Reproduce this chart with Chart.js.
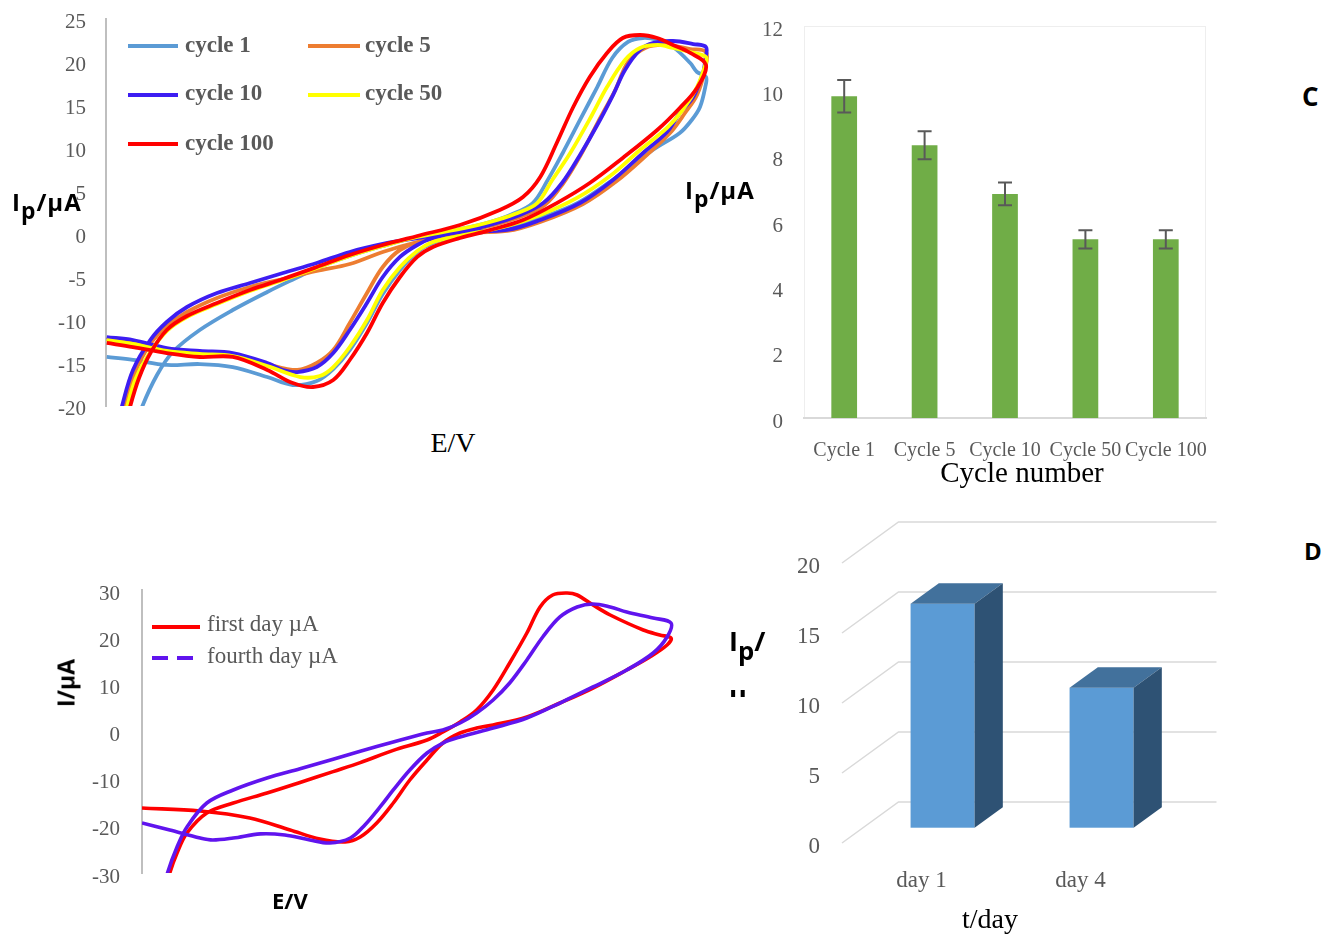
<!DOCTYPE html>
<html>
<head>
<meta charset="utf-8">
<script src="https://cdn.jsdelivr.net/npm/chart.js@4.4.0/dist/chart.umd.min.js"></script>
<style>
  html, body { margin: 0; padding: 0; background: #fff; }
  #fig { position: relative; width: 1323px; height: 934px; overflow: hidden; background: #fff; }
  canvas { position: absolute; }
  .t { position: absolute; white-space: nowrap; line-height: 1; z-index: 2; }
  .serif { font-family: 'Liberation Serif', 'Times New Roman', serif; color: #000; }
  .sans { font-family: 'Open Sans', sans-serif; font-weight: 700; color: #000; }
  .wide { letter-spacing: 1px; }
  .lg { font-family: 'Liberation Serif', 'Times New Roman', serif; color: #595959; font-size: 23px; }
  .lgb { font-weight: 700; }
  .sw { position: absolute; height: 4px; z-index: 2; }
  .sub { font-size: 95%; position: relative; top: 0.35em; }
</style>
</head>
<body>
<div id="fig">
  <canvas id="cvA" width="730" height="420" style="left:0;top:0"></canvas>
  <canvas id="barB" width="530" height="480" style="left:700px;top:0"></canvas>
  <canvas id="cvC" width="700" height="340" style="left:0;top:560px"></canvas>
  <canvas id="barD" width="520" height="420" style="left:740px;top:500px"></canvas>

  <!-- cycling voltammograms: legend and axis titles -->
  <div class="sw" style="left:128px;top:44px;width:50px;background:#5B9BD5"></div>
  <div class="t lg lgb" style="left:185px;top:33px">cycle 1</div>
  <div class="sw" style="left:308px;top:44px;width:52px;background:#ED7D31"></div>
  <div class="t lg lgb" style="left:365px;top:33px">cycle 5</div>
  <div class="sw" style="left:128px;top:93px;width:50px;background:#3D1DF2"></div>
  <div class="t lg lgb" style="left:185px;top:81px">cycle 10</div>
  <div class="sw" style="left:308px;top:93px;width:52px;background:#FFFF00"></div>
  <div class="t lg lgb" style="left:365px;top:81px">cycle 50</div>
  <div class="sw" style="left:128px;top:142px;width:50px;background:#FF0000"></div>
  <div class="t lg lgb" style="left:185px;top:131px">cycle 100</div>
  <div class="t sans wide" style="left:12px;top:190px;font-size:24px">I<span class="sub">p</span>/µA</div>
  <div class="t serif" style="left:453px;top:429px;font-size:28px;transform:translateX(-50%)">E/V</div>

  <!-- peak current per cycle -->
  <div class="t sans wide" style="left:685px;top:178px;font-size:24px">I<span class="sub">p</span>/µA</div>
  <div class="t serif" style="left:1022px;top:458px;font-size:29px;transform:translateX(-50%)">Cycle number</div>
  <div class="t sans" style="left:1302px;top:83px;font-size:26px">C</div>

  <!-- day-to-day voltammograms -->
  <div class="sw" style="left:152px;top:625px;width:48px;background:#FF0000"></div>
  <div class="t lg" style="left:207px;top:612px">first day µA</div>
  <div class="sw" style="left:152px;top:656px;width:41px;background:repeating-linear-gradient(90deg,#6014EE 0 16px,transparent 16px 25px)"></div>
  <div class="t lg" style="left:207px;top:644px">fourth day µA</div>
  <div class="t sans" style="left:66px;top:683px;font-size:23px;transform:translate(-50%,-50%) rotate(-90deg)">I/µA</div>
  <div class="t sans" style="left:272px;top:889px;font-size:22px">E/V</div>

  <!-- peak current per day (label box too narrow: unit is cut off) -->
  <div class="t sans" style="left:729px;top:627px;font-size:27px">I<span class="sub">p</span>/</div>
  <div class="t" style="left:729px;top:690px;width:20px;height:7px;overflow:hidden">
    <div class="sans" style="position:relative;top:-9.5px;font-size:27px;line-height:1">µA</div>
  </div>
  <div class="t serif" style="left:990px;top:905px;font-size:28px;transform:translateX(-50%)">t/day</div>
  <div class="t sans" style="left:1304px;top:539px;font-size:24px">D</div>
</div>

<script>
// ---- cyclic voltammograms over repeated cycling (E / V, I / µA) ----
const cycle1E = [-0.199,-0.164,-0.119,-0.075,-0.031,0.015,0.049,0.081,0.103,0.125,0.148,0.169,0.192,0.215,0.236,0.272,0.335,0.379,0.429,0.479,0.529,0.565,0.581,0.592,0.599,0.600,
                 0.588,0.579,0.556,0.535,0.516,0.496,0.475,0.455,0.432,0.409,0.389,0.369,0.339,0.312,0.272,0.215,0.169,0.125,0.081,0.059,0.015,-0.031,-0.075,-0.111,-0.132,-0.152,-0.159];
const cycle1I = [-14.30,-14.65,-15.23,-15.12,-15.47,-16.63,-17.56,-17.09,-15.70,-13.49,-10.35,-6.98,-4.19,-2.09,-1.05,-0.23,0.70,1.86,3.60,6.51,9.77,11.74,13.26,14.77,17.09,18.26,
                 18.84,19.88,21.74,22.56,22.79,22.33,20.47,17.09,13.26,9.42,6.28,3.60,2.21,1.40,0.58,-0.35,-1.40,-2.56,-3.95,-4.88,-6.74,-8.84,-11.16,-13.72,-16.40,-20.12,-22.2];

const cycle5E = [-0.199,-0.164,-0.119,-0.075,-0.031,0.015,0.055,0.081,0.103,0.125,0.148,0.169,0.192,0.236,0.272,0.335,0.379,0.436,0.481,0.521,0.552,0.572,0.588,0.599,0.600,
                 0.579,0.545,0.519,0.496,0.479,0.456,0.433,0.409,0.385,0.352,0.312,0.272,0.215,0.169,0.125,0.081,0.036,-0.008,-0.052,-0.092,-0.119,-0.141,-0.161,-0.175,-0.181];
const cycle5I = [-12.21,-12.56,-13.37,-13.72,-13.95,-15.12,-15.81,-15.0,-13.49,-10.35,-6.86,-3.84,-1.86,-0.35,0.12,0.35,1.40,3.49,6.16,9.19,11.74,14.07,16.16,19.30,21.16,
                 21.51,21.98,21.63,20.0,16.74,13.02,9.19,5.81,3.37,1.98,0.93,0.12,-0.93,-2.09,-3.49,-4.30,-5.23,-6.16,-7.44,-9.07,-10.70,-12.79,-16.05,-20.12,-22.2];

const cycle10E = [-0.199,-0.164,-0.119,-0.075,-0.031,0.015,0.036,0.055,0.081,0.103,0.125,0.148,0.169,0.192,0.215,0.236,0.272,0.335,0.379,0.432,0.476,0.516,0.548,0.565,0.583,0.596,0.599,0.600,
                  0.583,0.556,0.529,0.512,0.492,0.476,0.455,0.432,0.408,0.383,0.352,0.312,0.272,0.215,0.169,0.125,0.081,0.036,-0.008,-0.052,-0.092,-0.119,-0.141,-0.164,-0.179,-0.184];
const cycle10I = [-11.98,-12.33,-13.26,-13.60,-13.84,-15.0,-15.81,-16.05,-15.47,-13.84,-11.16,-8.02,-5.0,-2.67,-1.28,-0.47,0.23,0.47,1.63,3.60,6.28,9.42,11.86,14.07,15.93,18.72,20.23,21.74,
                  22.09,22.44,22.21,21.40,19.07,16.16,12.67,9.19,5.93,3.60,2.21,1.05,0.35,-0.47,-1.16,-2.09,-3.37,-4.53,-5.70,-6.86,-8.49,-10.23,-12.33,-15.81,-20.12,-22.2];

const cycle50E = [-0.199,-0.164,-0.119,-0.075,-0.031,0.015,0.059,0.085,0.103,0.125,0.148,0.169,0.192,0.215,0.236,0.272,0.335,0.379,0.428,0.472,0.512,0.548,0.569,0.588,0.599,0.600,
                  0.579,0.556,0.536,0.512,0.492,0.468,0.448,0.419,0.395,0.375,0.345,0.312,0.272,0.215,0.169,0.125,0.081,0.036,-0.008,-0.052,-0.092,-0.119,-0.141,-0.160,-0.172,-0.177];
const cycle50I = [-12.33,-12.79,-13.60,-13.95,-14.19,-15.35,-16.63,-16.51,-15.47,-13.14,-10.0,-6.51,-3.84,-1.98,-0.93,-0.23,0.93,2.21,4.19,6.74,9.77,12.33,14.42,17.09,19.65,20.58,
                  21.16,21.63,21.98,21.63,20.23,17.09,13.84,9.42,6.28,3.60,2.33,1.40,0.58,-0.35,-1.40,-2.56,-3.95,-5.35,-6.63,-8.14,-9.65,-11.28,-13.72,-16.74,-20.12,-22.2];

const cycle100E = [-0.199,-0.164,-0.119,-0.075,-0.031,0.015,0.049,0.076,0.103,0.125,0.148,0.169,0.192,0.215,0.236,0.272,0.312,0.356,0.401,0.445,0.489,0.535,0.565,0.588,0.600,
                   0.579,0.556,0.535,0.512,0.489,0.468,0.445,0.423,0.401,0.379,0.356,0.325,0.272,0.215,0.169,0.125,0.081,0.036,-0.008,-0.052,-0.092,-0.119,-0.140,-0.156,-0.168,-0.173];
const cycle100I = [-12.67,-13.14,-13.84,-14.30,-14.30,-15.81,-17.33,-17.79,-16.98,-14.65,-11.51,-8.02,-5.0,-2.67,-1.51,-0.47,0.45,1.63,3.60,5.93,8.84,12.09,14.65,16.98,19.65,
                   21.05,21.98,22.79,23.14,22.79,21.05,18.26,14.77,10.58,6.63,4.30,2.79,1.05,-0.23,-1.28,-2.44,-3.84,-5.23,-6.51,-8.02,-9.53,-11.16,-13.72,-16.74,-20.12,-22.2];

const cycleNames = ['cycle 1', 'cycle 5', 'cycle 10', 'cycle 50', 'cycle 100'];

// ---- peak current versus cycle number ----
const cycleCategories = ['Cycle 1', 'Cycle 5', 'Cycle 10', 'Cycle 50', 'Cycle 100'];
const peakCurrent = [9.85, 8.35, 6.86, 5.47, 5.47];
const peakError = [0.50, 0.43, 0.35, 0.28, 0.28];

// ---- voltammograms on the first and fourth day ----
const day1E = [-0.200,-0.112,-0.037,0.024,0.069,0.107,0.130,0.155,0.180,0.205,0.231,0.255,0.281,0.306,0.331,0.382,0.432,0.482,0.533,0.568,0.594,0.600,
               0.583,0.558,0.508,0.482,0.458,0.443,0.421,0.402,0.382,0.356,0.331,0.306,0.281,0.255,0.231,0.180,0.130,0.089,0.039,-0.011,-0.062,-0.102,-0.132,-0.147,-0.158,-0.164];
const day1I = [-16.22,-16.85,-18.34,-20.88,-22.8,-23.4,-22.37,-19.40,-15.16,-10.28,-6.04,-2.44,-0.32,0.74,1.38,3.08,6.04,9.22,13.04,15.80,18.34,19.82,
               20.46,21.52,24.70,26.82,28.94,29.36,28.94,26.40,20.88,14.52,8.80,4.56,2.02,-0.10,-1.80,-4.0,-6.6,-8.5,-10.8,-13.04,-15.16,-17.28,-21.52,-25.76,-30.0,-33.6];
const day4E = [-0.200,-0.158,-0.112,-0.093,-0.062,-0.021,0.016,0.054,0.084,0.115,0.137,0.160,0.180,0.205,0.231,0.255,0.281,0.331,0.382,0.432,0.482,0.533,0.573,0.594,0.600,
               0.573,0.533,0.508,0.482,0.458,0.432,0.406,0.382,0.356,0.331,0.306,0.281,0.255,0.231,0.180,0.130,0.089,0.039,-0.011,-0.062,-0.102,-0.132,-0.147,-0.161,-0.167];
const day4I = [-19.40,-20.88,-22.58,-23.0,-22.58,-21.7,-21.94,-23.0,-23.64,-22.58,-19.82,-16.0,-12.40,-8.16,-4.56,-2.44,-1.16,0.74,2.86,6.04,9.44,13.04,16.64,20.04,23.0,
               24.06,25.34,26.40,27.03,26.40,24.28,20.04,15.16,10.28,6.68,3.92,1.80,0.32,-0.32,-2.22,-4.2,-5.9,-7.9,-9.86,-12.40,-15.16,-20.24,-24.48,-29.78,-33.6];
const dayNames = ['first day µA', 'fourth day µA'];

// ---- peak current per day ----
const dayCategories = ['day 1', 'day 4'];
const dayPeak = [16, 10];

// ------------------------------------------------------------------
Chart.defaults.font.family = "'Liberation Serif', 'Times New Roman', serif";
Chart.defaults.color = '#595959';

const toPoints = (E, I) => E.map((e, k) => ({ x: e, y: I[k] }));
const noChrome = { legend: { display: false }, tooltip: { enabled: false } };
// tick marks are not drawn; their length only spaces the labels from the axis
const spacer = len => ({ display: false, drawTicks: true, tickLength: len });

const cycleColors = ['#5B9BD5', '#ED7D31', '#3D1DF2', '#FFFF00', '#FF0000'];
const cycleData = [[cycle1E, cycle1I], [cycle5E, cycle5I], [cycle10E, cycle10I], [cycle50E, cycle50I], [cycle100E, cycle100I]];

// panel: CV over cycles
new Chart(document.getElementById('cvA'), {
  type: 'line',
  data: {
    datasets: cycleData.map(([E, I], k) => ({
      label: cycleNames[k],
      data: toPoints(E, I),
      borderColor: cycleColors[k],
      order: cycleData.length - 1 - k
    }))
  },
  options: {
    responsive: false, animation: false, events: [],
    layout: { padding: { left: 0, top: 19, right: 9, bottom: 14 } },
    plugins: noChrome,
    elements: { point: { radius: 0 }, line: { tension: 0.35, borderWidth: 3.8, fill: false } },
    scales: {
      x: { type: 'linear', display: false, min: -0.2, max: 0.62 },
      y: {
        min: -20, max: 25,
        ticks: { stepSize: 5, padding: 0, font: { size: 21 }, color: '#595959', labelOffset: 3 },
        grid: spacer(20),
        border: { color: '#BFBFBF', width: 2 },
        afterFit: s => { s.width = 106; }
      }
    }
  }
});

// faint frame around the plot area
const plotFrame = {
  id: 'plotFrame',
  beforeDraw(chart) {
    const { ctx, chartArea: a } = chart;
    ctx.save();
    ctx.strokeStyle = '#EEEEEE';
    ctx.lineWidth = 1;
    ctx.strokeRect(a.left + 0.5, a.top + 0.5, a.right - a.left - 1, a.bottom - a.top);
    ctx.restore();
  }
};

// standard-deviation whiskers on each bar
const errorBars = {
  id: 'errorBars',
  afterDatasetsDraw(chart) {
    const { ctx, scales: { y } } = chart;
    const meta = chart.getDatasetMeta(0);
    ctx.save();
    ctx.strokeStyle = '#595959';
    ctx.lineWidth = 2;
    meta.data.forEach((bar, k) => {
      const hi = y.getPixelForValue(peakCurrent[k] + peakError[k]);
      const lo = y.getPixelForValue(peakCurrent[k] - peakError[k]);
      ctx.beginPath();
      ctx.moveTo(bar.x, hi); ctx.lineTo(bar.x, lo);
      ctx.moveTo(bar.x - 7, hi); ctx.lineTo(bar.x + 7, hi);
      ctx.moveTo(bar.x - 7, lo); ctx.lineTo(bar.x + 7, lo);
      ctx.stroke();
    });
    ctx.restore();
  }
};

// panel: peak current per cycle
new Chart(document.getElementById('barB'), {
  type: 'bar',
  data: {
    labels: cycleCategories,
    datasets: [{ data: peakCurrent, backgroundColor: '#70AD47', borderWidth: 0, categoryPercentage: 1, barPercentage: 0.32 }]
  },
  plugins: [plotFrame, errorBars],
  options: {
    responsive: false, animation: false, events: [],
    layout: { padding: { left: 0, top: 26, right: 24, bottom: 12 } },
    plugins: noChrome,
    scales: {
      x: {
        ticks: { font: { size: 20 }, color: '#595959', padding: 0, autoSkip: false, maxRotation: 0, minRotation: 0 },
        grid: spacer(21),
        border: { color: '#D9D9D9', width: 2 },
        afterFit: s => { s.height = 50; }
      },
      y: {
        min: 0, max: 12,
        ticks: { stepSize: 2, padding: 0, font: { size: 21 }, color: '#595959', labelOffset: 4 },
        grid: spacer(21),
        border: { display: false },
        afterFit: s => { s.width = 104; }
      }
    }
  }
});

// panel: first vs fourth day CV
const dayColors = ['#FF0000', '#6014EE'];
new Chart(document.getElementById('cvC'), {
  type: 'line',
  data: {
    datasets: [[day1E, day1I], [day4E, day4I]].map(([E, I], k) => ({
      label: dayNames[k],
      data: toPoints(E, I),
      borderColor: dayColors[k],
      order: 1 - k
    }))
  },
  options: {
    responsive: false, animation: false, events: [],
    layout: { padding: { left: 0, top: 30, right: 15.75, bottom: 27 } },
    plugins: noChrome,
    elements: { point: { radius: 0 }, line: { tension: 0.35, borderWidth: 3.6, fill: false } },
    scales: {
      x: { type: 'linear', display: false, min: -0.2, max: 0.62 },
      y: {
        min: -30, max: 30,
        ticks: { stepSize: 10, padding: 0, font: { size: 21 }, color: '#595959', labelOffset: 4 },
        grid: spacer(22),
        border: { color: '#BFBFBF', width: 2 },
        afterFit: s => { s.width = 142; }
      }
    }
  }
});

// perspective walls and box-shaped columns
const view3d = { dx: 56.5, dy: -41, front: 0.373, back: 0.873 };
const columns3d = {
  id: 'columns3d',
  beforeDatasetsDraw(chart) {
    const { ctx, chartArea: a, scales: { y } } = chart;
    ctx.save();
    ctx.strokeStyle = '#D9D9D9';
    ctx.lineWidth = 1.5;
    y.ticks.forEach(t => {
      const py = y.getPixelForValue(t.value);
      ctx.beginPath();
      ctx.moveTo(a.left, py);
      ctx.lineTo(a.left + view3d.dx, py + view3d.dy);
      ctx.lineTo(a.right + view3d.dx, py + view3d.dy);
      ctx.stroke();
    });
    ctx.restore();
  },
  afterDatasetsDraw(chart) {
    const ctx = chart.ctx;
    const meta = chart.getDatasetMeta(0);
    const fx = view3d.dx * view3d.front, fy = view3d.dy * view3d.front;
    const bx = view3d.dx * view3d.back, by = view3d.dy * view3d.back;
    const poly = pts => {
      ctx.beginPath();
      pts.forEach(([px, py], i) => (i ? ctx.lineTo(px, py) : ctx.moveTo(px, py)));
      ctx.closePath();
      ctx.fill();
    };
    ctx.save();
    meta.data.forEach(bar => {
      const { x, y, base, width } = bar.getProps(['x', 'y', 'base', 'width'], true);
      const l = x - width / 2, r = x + width / 2;
      ctx.fillStyle = '#5B9BD5';
      ctx.fillRect(l + fx, y + fy, width, base - y);
      ctx.fillStyle = '#42719C';
      poly([[l + fx, y + fy], [r + fx, y + fy], [r + bx, y + by], [l + bx, y + by]]);
      ctx.fillStyle = '#2E5274';
      poly([[r + fx, y + fy], [r + bx, y + by], [r + bx, base + by], [r + fx, base + fy]]);
    });
    ctx.restore();
  }
};

// panel: peak current per day
new Chart(document.getElementById('barD'), {
  type: 'bar',
  data: {
    labels: dayCategories,
    datasets: [{ data: dayPeak, backgroundColor: 'rgba(0,0,0,0)', borderWidth: 0, categoryPercentage: 1, barPercentage: 0.4025 }]
  },
  plugins: [columns3d],
  options: {
    responsive: false, animation: false, events: [],
    layout: { padding: { left: 0, top: 63, right: 100, bottom: 17 } },
    plugins: noChrome,
    scales: {
      x: {
        ticks: { font: { size: 23 }, color: '#595959', padding: 0, autoSkip: false, maxRotation: 0, minRotation: 0 },
        grid: spacer(24),
        border: { display: false },
        afterFit: s => { s.height = 60; }
      },
      y: {
        min: 0, max: 20,
        ticks: { stepSize: 5, padding: 0, font: { size: 23 }, color: '#595959', labelOffset: 4 },
        grid: spacer(22),
        border: { display: false },
        afterFit: s => { s.width = 102; }
      }
    }
  }
});
</script>
</body>
</html>
